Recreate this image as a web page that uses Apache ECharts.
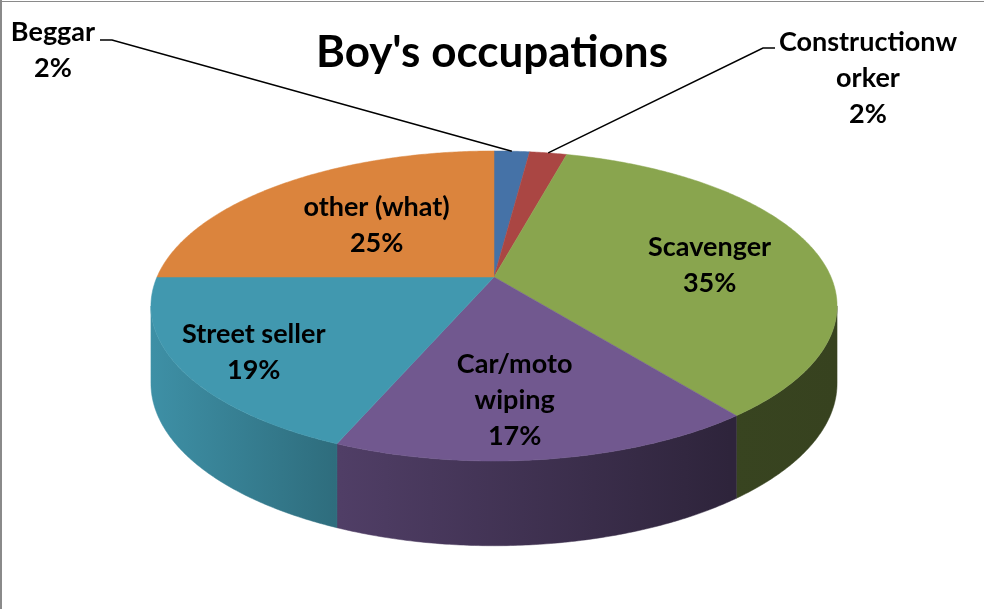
<!DOCTYPE html>
<html lang="en">
  <head>
    <meta charset="utf-8" />
    <title>Boy's occupations</title>
    <script src="https://cdn.jsdelivr.net/npm/echarts@6/dist/echarts.min.js"></script>
    <style>
      html, body { margin: 0; padding: 0; background: #fff; }
      #chart { width: 984px; height: 609px; }
    </style>
  </head>
  <body>
    <div id="chart"></div>
    <script>
      var occupations = ['Beggar', 'Constructionworker', 'Scavenger', 'Car/moto wiping', 'Street seller', 'other (what)']
      var labelLines = ['Beggar', 'Constructionw\norker', 'Scavenger', 'Car/moto\nwiping', 'Street seller', 'other (what)']
      var shares = [2, 2.1, 35.4, 16.8, 18.7, 25]
      var sliceColors = ['#4572A7', '#AA4643', '#89A54E', '#71588F', '#4198AF', '#DB843D']

      // tilted pie: centre, radii, perspective strength, side height
      var cx = 494, cy = 277, rx = 337, ry = 149.6, persp = 0.187, depth = 76
      // where the labels sit: fraction of radius and a small turn (deg) off the mid angle
      var labelRadius = [0, 0, 0.66, 0.70, 0.79, 0.54]
      var labelTurn = [0, 0, 2.6, 3.2, -0.5, 1.2]
      var labelDrop = 3
      // the two thin slices get labels outside with a leader line
      var callouts = {
        0: { end: [100, 40], elbow: 12, text: [53, 50] },
        1: { end: [775, 48], elbow: -12, text: [868, 78] }
      }
      // side shading, brighter on the left
      var shadeStops = [[150, 0.95], [340, 0.71], [730, 0.41], [840, 0.40]]
      var FONT = 'Lato, "Open Sans", sans-serif'

      var total = shares.reduce(function (a, b) { return a + b }, 0)
      var starts = []
      var acc = 0
      shares.forEach(function (v) {
        starts.push(acc / total * 2 * Math.PI)
        acc += v
      })

      function proj (a, r) {
        var u = r * Math.sin(a), v = -r * Math.cos(a)
        var s = 1 / (1 - persp * v)
        return [cx + rx * u * s, cy + ry * v * s, s]
      }
      function arc (a0, a1) {
        var n = Math.max(2, Math.ceil((a1 - a0) / (Math.PI / 360)))
        var pts = []
        for (var i = 0; i <= n; i++) pts.push(proj(a0 + (a1 - a0) * i / n, 1))
        return pts
      }
      function shade (hex, f) {
        var n = parseInt(hex.slice(1), 16)
        var r = Math.round(((n >> 16) & 255) * f)
        var g = Math.round(((n >> 8) & 255) * f)
        var b = Math.round((n & 255) * f)
        return 'rgb(' + r + ',' + g + ',' + b + ')'
      }
      function wallFill (color) {
        var x0 = shadeStops[0][0], x1 = shadeStops[shadeStops.length - 1][0]
        return {
          type: 'linear', x: x0, y: 0, x2: x1, y2: 0, global: true,
          colorStops: shadeStops.map(function (s) {
            return { offset: (s[0] - x0) / (x1 - x0), color: shade(color, s[1]) }
          })
        }
      }
      function sweep (api) {
        return api.value(1) / total * 2 * Math.PI
      }

      var wallLo = Math.acos(-persp)
      var wallHi = 2 * Math.PI - wallLo
      var seriesData = shares.map(function (v, i) {
        return { name: occupations[i], value: [i, v] }
      })

      var chart = echarts.init(document.getElementById('chart'))
      chart.setOption({
        animation: false,
        title: {
          text: "Boy's occupations",
          left: 'center',
          top: 26,
          textStyle: { fontFamily: FONT, fontSize: 44, fontWeight: 'bold', color: '#000' }
        },
        graphic: [
          { type: 'line', shape: { x1: 1, y1: 0, x2: 1, y2: 609 }, style: { stroke: '#8a8a8a', lineWidth: 2 } },
          { type: 'line', shape: { x1: 0, y1: 1.5, x2: 984, y2: 1.5 }, style: { stroke: '#8a8a8a', lineWidth: 1 } }
        ],
        series: [
          {
            // sides of the pie
            type: 'custom',
            coordinateSystem: 'none',
            z: 1,
            data: seriesData,
            renderItem: function (params, api) {
              var i = params.dataIndex
              var a0 = Math.max(starts[i], wallLo)
              var a1 = Math.min(starts[i] + sweep(api), wallHi)
              if (a1 <= a0) return
              var top = arc(a0, a1)
              var bottom = top.map(function (p) {
                return [p[0], p[1] + depth * (0.5 + 0.5 * p[2])]
              }).reverse()
              return {
                type: 'polygon',
                shape: { points: top.map(function (p) { return [p[0], p[1]] }).concat(bottom) },
                style: { fill: wallFill(sliceColors[i]), stroke: wallFill(sliceColors[i]), lineWidth: 0.5 }
              }
            }
          },
          {
            // top faces
            type: 'custom',
            coordinateSystem: 'none',
            z: 2,
            data: seriesData,
            renderItem: function (params, api) {
              var i = params.dataIndex
              var pts = [[cx, cy]].concat(arc(starts[i], starts[i] + sweep(api)).map(function (p) {
                return [p[0], p[1]]
              }))
              return {
                type: 'polygon',
                shape: { points: pts },
                style: { fill: sliceColors[i], stroke: sliceColors[i], lineWidth: 0.5 }
              }
            }
          },
          {
            // data labels
            type: 'custom',
            coordinateSystem: 'none',
            z: 3,
            data: seriesData,
            renderItem: function (params, api) {
              var i = params.dataIndex
              var pct = Math.round(api.value(1) / total * 100) + '%'
              var text = labelLines[i] + '\n' + pct
              var textStyle = {
                text: text, fill: '#000', align: 'center', verticalAlign: 'middle',
                fontFamily: FONT, fontSize: 27, fontWeight: 'bold', lineHeight: 36
              }
              var mid = starts[i] + sweep(api) / 2
              var co = callouts[i]
              if (co) {
                var tip = proj(mid, 1)
                return {
                  type: 'group',
                  children: [
                    {
                      type: 'polyline',
                      shape: { points: [[tip[0], tip[1]], [co.end[0] + co.elbow, co.end[1]], co.end] },
                      style: { stroke: '#000', lineWidth: 1.5, fill: null }
                    },
                    { type: 'text', x: co.text[0], y: co.text[1], style: textStyle }
                  ]
                }
              }
              var p = proj(mid + labelTurn[i] * Math.PI / 180, labelRadius[i])
              return { type: 'text', x: p[0], y: p[1] + labelDrop, style: textStyle }
            }
          }
        ]
      })
    </script>
  </body>
</html>
